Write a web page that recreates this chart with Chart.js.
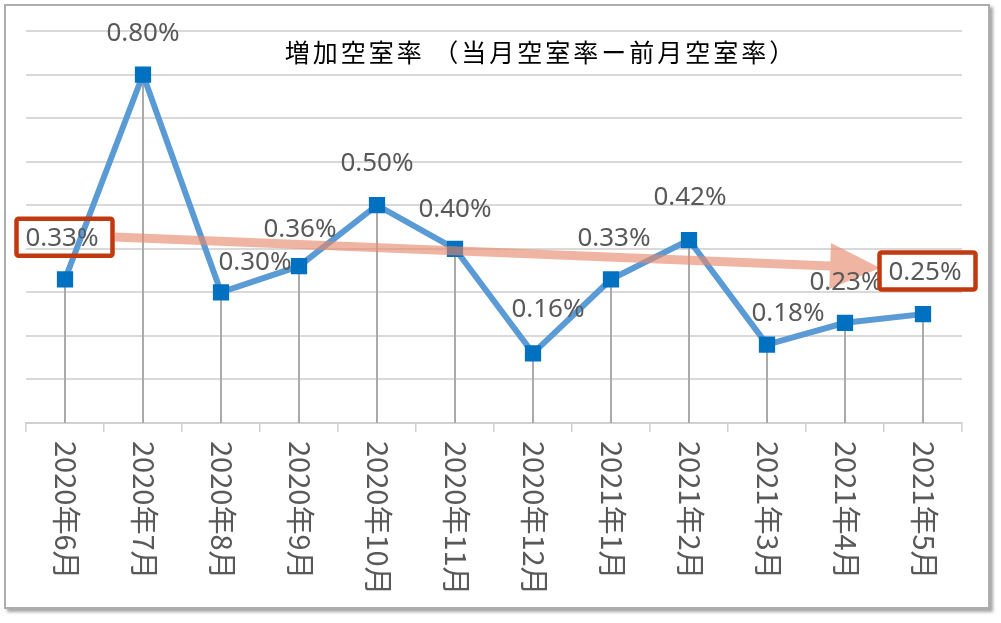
<!DOCTYPE html>
<html><head><meta charset="utf-8">
<script src="https://cdn.jsdelivr.net/npm/chart.js@4"></script>
<style>
html,body{margin:0;padding:0;background:#fff;width:1001px;height:623px;overflow:hidden}
#frame{position:absolute;left:4px;top:4px;width:982px;height:601px;border:2px solid #ADADAD;box-shadow:3px 3px 3px rgba(0,0,0,0.35);background:#fff}
#wrap{position:absolute;left:0;top:0;width:1001px;height:623px}
</style></head><body>
<div id="frame"></div>
<div id="wrap"><canvas id="c" width="1001" height="623"></canvas></div>
<script>
// ---- data ----
const TITLE = '増加空室率 （当月空室率ー前月空室率）';
const CATEGORIES = ['2020年6月','2020年7月','2020年8月','2020年9月','2020年10月','2020年11月','2020年12月','2021年1月','2021年2月','2021年3月','2021年4月','2021年5月'];
const VACANCY_DIFF = [0.33, 0.80, 0.30, 0.36, 0.50, 0.40, 0.16, 0.33, 0.42, 0.18, 0.23, 0.25];
const Y_MIN = 0, Y_MAX = 0.9, Y_STEP = 0.1;
const HIGHLIGHT = [0, 11];
const TREND_FROM = [0.64, 0.427];   // [category index, value]
const TREND_TO = [10.45, 0.356];

// ---- label placement (pixel offsets from the point) ----
const LABEL_DX = [-3, 0, 34, 1, 0, 0, 15, 3, 1, 21, 1, 2];
const LABEL_DY = [-41, -41, -30, -37, -42, -39, -44, -41, -42, -31, -40, -42];

const LABEL_FONT = '26px "Noto Sans"';
const TICK_FONT = '29px "Noto Sans CJK JP"';
const TITLE_FONT = '25px "Noto Sans CJK JP"';

const decor = {
  id: 'decor',
  beforeDatasetsDraw(chart) {
    const ctx = chart.ctx, meta = chart.getDatasetMeta(0), bottom = chart.chartArea.bottom;
    ctx.save();
    ctx.strokeStyle = '#AAAAAA';
    ctx.lineWidth = 2;
    meta.data.forEach(p => {
      ctx.beginPath();
      ctx.moveTo(Math.round(p.x), p.y);
      ctx.lineTo(Math.round(p.x), bottom);
      ctx.stroke();
    });
    ctx.restore();
  },
  afterDatasetsDraw(chart) {
    const ctx = chart.ctx, xs = chart.scales.x, ys = chart.scales.y;
    const meta = chart.getDatasetMeta(0);
    // trend arrow
    const x1 = xs.getPixelForValue(TREND_FROM[0]), y1 = ys.getPixelForValue(TREND_FROM[1]);
    const x2 = xs.getPixelForValue(TREND_TO[0]), y2 = ys.getPixelForValue(TREND_TO[1]);
    const len = Math.hypot(x2 - x1, y2 - y1), ux = (x2 - x1) / len, uy = (y2 - y1) / len;
    const nx = -uy, ny = ux, sw = 4.5, hw = 23, hl = 50;
    const bx = x2 - ux * hl, by = y2 - uy * hl;
    ctx.save();
    ctx.fillStyle = 'rgba(230,135,105,0.62)';
    ctx.beginPath();
    ctx.moveTo(x1 + nx * sw, y1 + ny * sw);
    ctx.lineTo(bx + nx * sw, by + ny * sw);
    ctx.lineTo(bx + nx * hw, by + ny * hw);
    ctx.lineTo(x2, y2);
    ctx.lineTo(bx - nx * hw, by - ny * hw);
    ctx.lineTo(bx - nx * sw, by - ny * sw);
    ctx.lineTo(x1 - nx * sw, y1 - ny * sw);
    ctx.closePath();
    ctx.fill();
    ctx.restore();
    // data labels
    ctx.save();
    ctx.font = LABEL_FONT;
    ctx.fillStyle = '#595959';
    ctx.textAlign = 'center';
    ctx.textBaseline = 'middle';
    meta.data.forEach((p, i) => {
      const lx = p.x + LABEL_DX[i], ly = p.y + LABEL_DY[i];
      ctx.fillText(VACANCY_DIFF[i].toFixed(2) + '%', lx, ly);
    });
    // highlight boxes
    ctx.strokeStyle = '#C0390F';
    ctx.lineWidth = 4.5;
    ctx.lineJoin = 'round';
    HIGHLIGHT.forEach(i => {
      const p = meta.data[i];
      const cx = p.x + LABEL_DX[i] + 2.5, cy = p.y + LABEL_DY[i] - 1;
      ctx.beginPath();
      ctx.roundRect(cx - 48, cy - 18.5, 96, 37, 2);
      ctx.stroke();
    });
    ctx.restore();
  },
  afterDraw(chart) {
    const ctx = chart.ctx, xs = chart.scales.x, bottom = chart.chartArea.bottom;
    // rotated category labels
    ctx.save();
    ctx.font = TICK_FONT;
    ctx.fillStyle = '#595959';
    ctx.textAlign = 'left';
    ctx.textBaseline = 'middle';
    chart.data.labels.forEach((lab, i) => {
      ctx.save();
      ctx.translate(xs.getPixelForValue(i) + 1, bottom + 18);
      ctx.rotate(Math.PI / 2);
      ctx.fillText(lab, 0, 0);
      ctx.restore();
    });
    ctx.restore();
    // title
    ctx.save();
    ctx.font = TITLE_FONT;
    ctx.fillStyle = '#000000';
    ctx.textAlign = 'center';
    ctx.textBaseline = 'middle';
    ctx.letterSpacing = '3px';
    ctx.fillText(TITLE, 541, 52);
    ctx.restore();
  }
};

new Chart(document.getElementById('c'), {
  type: 'line',
  data: {
    labels: CATEGORIES,
    datasets: [{
      label: '増加空室率',
      data: VACANCY_DIFF,
      borderColor: '#5B9BD5',
      borderWidth: 6,
      tension: 0,
      pointStyle: 'rect',
      pointRadius: 11.5,
      pointBackgroundColor: '#0070C0',
      pointBorderColor: '#0070C0',
      pointBorderWidth: 0,
      fill: false
    }]
  },
  options: {
    responsive: false,
    animation: false,
    layout: { padding: { left: 26, right: 39, top: 31, bottom: 0 } },
    plugins: { legend: { display: false }, title: { display: false }, tooltip: { enabled: false } },
    scales: {
      x: {
        offset: true,
        afterFit(s) { s.height = 200; },
        ticks: { display: false },
        grid: { offset: true, drawOnChartArea: false, drawTicks: true, tickLength: 9, color: '#D0D0D0', lineWidth: 1.5 },
        border: { display: true, color: '#D0D0D0', width: 2 }
      },
      y: {
        min: Y_MIN, max: Y_MAX,
        afterFit(s) { s.width = 0; },
        ticks: { display: false, stepSize: Y_STEP },
        grid: { drawTicks: false, color: '#D9D9D9', lineWidth: 2 },
        border: { display: false }
      }
    }
  },
  plugins: [decor]
});
</script>
</body></html>
